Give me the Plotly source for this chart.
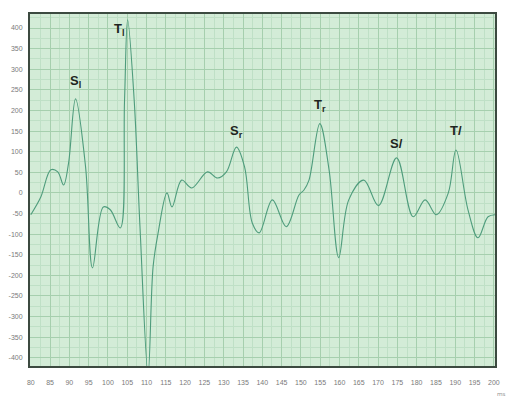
import plotly.graph_objects as go

# Waveform samples: time (ms) and amplitude
time_ms = [80, 82.6, 85.2, 87.0, 88.5, 89.8, 91.6, 94.2, 96.0, 98.8, 100.6, 103.2,
           104.3, 105.1, 106.8, 108.3, 110.4, 111.7, 113.0, 115.3, 116.6, 119.1,
           121.7, 125.8, 128.4, 130.7, 133.3, 135.4, 137.4, 139.2, 142.6, 146.2,
           149.5, 150.8, 152.1, 154.9, 157.3, 159.8, 162.4, 166.3, 170.1, 174.8,
           179.1, 182.2, 185.1, 188.2, 190.2, 193.3, 195.9, 198.5, 200.5]
amplitude = [-53, -10, 56, 51, 19, 73, 228, 63, -182, -34, -41, -85,
             225, 420, 225, -82, -440, -179, -97, 0, -34, 31,
             12, 51, 36, 51, 111, 63, -73, -97, -17, -82,
             -5, 7, 31, 168, 56, -157, -17, 31, -31, 85,
             -58, -17, -53, 0, 104, -41, -109, -58, -53]

# Peak labels with pixel offsets from their peak
peak_names = ["S<sub>l</sub>", "T<sub>l</sub>", "S<sub>r</sub>", "T<sub>r</sub>", "S/", "T/"]
peak_x = [91.6, 105.1, 133.3, 154.9, 174.8, 190.2]
peak_y = [228, 420, 111, 168, 85, 104]
label_dx = [0, -9, 0, 0, 0, 0]
label_dy = [17, -10, 16, 18, 14, 20]

x_ticks = list(range(80, 201, 5))
y_ticks = list(range(-400, 451, 50))

fig = go.Figure()
fig.add_trace(go.Scatter(
    x=time_ms, y=amplitude, mode="lines",
    line=dict(color="#4e9c7c", width=1.1, shape="spline", smoothing=1.0),
    hoverinfo="skip", showlegend=False,
))

for name, px, py, dx, dy in zip(peak_names, peak_x, peak_y, label_dx, label_dy):
    fig.add_annotation(
        x=px, y=py, text="<b>" + name + "</b>", showarrow=False,
        xshift=dx, yshift=dy,
        font=dict(family="Liberation Sans, Arial", size=13, color="#1e2520"),
    )

fig.add_annotation(
    x=1.0, y=-0.062, xref="paper", yref="paper", text="ms", showarrow=False,
    xanchor="left", yanchor="top", font=dict(size=6, color="#888888"),
)

axis_font = dict(family="Liberation Sans, Arial", size=7, color="#7a7a7a")
fig.update_xaxes(
    range=[79.8, 200.3], tickvals=x_ticks, ticktext=[str(v) for v in x_ticks],
    tickfont=axis_font, ticklabelstandoff=9,
    showgrid=True, gridcolor="#a6cfae", gridwidth=1,
    minor=dict(dtick=2.5, showgrid=True, gridcolor="#bfe0c6", gridwidth=1),
    zeroline=False, showline=True, linecolor="#3c4a40", linewidth=2, mirror=True,
    ticks="", fixedrange=True,
)
fig.update_yaxes(
    range=[-420, 434], tickvals=y_ticks, ticktext=[str(v) for v in y_ticks],
    tickfont=axis_font, ticklabelstandoff=4,
    showgrid=True, gridcolor="#a6cfae", gridwidth=1,
    minor=dict(dtick=25, showgrid=True, gridcolor="#bfe0c6", gridwidth=1),
    zeroline=False, showline=True, linecolor="#3c4a40", linewidth=2, mirror=True,
    ticks="", fixedrange=True,
)
fig.update_layout(
    width=509, height=399,
    margin=dict(l=29, r=9, t=14, b=33),
    paper_bgcolor="#ffffff", plot_bgcolor="#d3ecd7",
)

fig.write_html("out.html")
